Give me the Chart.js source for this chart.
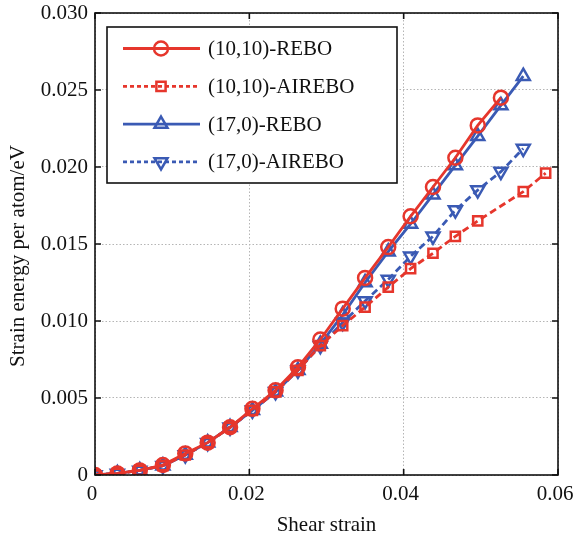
<!DOCTYPE html>
<html>
<head>
<meta charset="utf-8">
<script src="https://cdn.jsdelivr.net/npm/chart.js@4/dist/chart.umd.min.js"></script>
<style>
  html, body { margin: 0; padding: 0; background: #ffffff; }
  #wrap { width: 573px; height: 539px; }
</style>
</head>
<body>
<div id="wrap"><canvas id="chart" width="573" height="539"></canvas></div>
<script>
// shear strain steps
const strainA = [0, 0.0029, 0.0058, 0.0088, 0.0117, 0.0146, 0.0175, 0.0204, 0.0234, 0.0263,
    0.0292, 0.0321, 0.0350, 0.0380, 0.0409, 0.0438, 0.0467, 0.0496, 0.0526];
const strainB = [0, 0.0029, 0.0058, 0.0088, 0.0117, 0.0146, 0.0175, 0.0204, 0.0234, 0.0263,
    0.0292, 0.0321, 0.0350, 0.0380, 0.0409, 0.0438, 0.0467, 0.0496, 0.0526, 0.0555];
const strainC = [0, 0.0029, 0.0058, 0.0088, 0.0117, 0.0146, 0.0175, 0.0204, 0.0234, 0.0263,
    0.0292, 0.0321, 0.0350, 0.0380, 0.0409, 0.0438, 0.0467, 0.0496, 0.0555, 0.0584];

// strain energy per atom (eV)
const armchairRebo = [0, 0.0001, 0.0003, 0.00065, 0.0014, 0.0021, 0.0031, 0.0043, 0.0055, 0.0070,
    0.0088, 0.0108, 0.0128, 0.0148, 0.0168, 0.0187, 0.0206, 0.0227, 0.0245];
const armchairAirebo = [0, 0.0001, 0.0003, 0.0006, 0.0013, 0.0021, 0.0031, 0.0042, 0.0054, 0.0068,
    0.0084, 0.0097, 0.0109, 0.0122, 0.0134, 0.0144, 0.0155, 0.0165, 0.0184, 0.0196];
const zigzagRebo = [0, 0.0001, 0.0003, 0.0006, 0.0013, 0.0021, 0.0031, 0.0042, 0.0054, 0.0068,
    0.0085, 0.0104, 0.0125, 0.0145, 0.0163, 0.0182, 0.0201, 0.0220, 0.0240, 0.0259];
const zigzagAirebo = [0, 0.0001, 0.0003, 0.0006, 0.0013, 0.0021, 0.0031, 0.0042, 0.0054, 0.0068,
    0.0084, 0.0099, 0.0113, 0.0127, 0.0142, 0.0155, 0.0172, 0.0185, 0.0197, 0.0212];

const seriesNames = ['(10,10)-REBO', '(10,10)-AIREBO', '(17,0)-REBO', '(17,0)-AIREBO'];
const xTickLabels = ['0', '0.02', '0.04', '0.06'];
const yTickLabels = ['0', '0.005', '0.010', '0.015', '0.020', '0.025', '0.030'];
const xTitle = 'Shear strain';
const yTitle = 'Strain energy per atom/eV';

const RED = '#e6362c';
const BLUE = '#3a5ab4';
const SERIF = "'Liberation Serif', 'DejaVu Serif', serif";

const pairs = (xs, ys) => ys.map((y, i) => ({x: xs[i], y: y}));

function makeSet(label, xs, ys, color, dashed, style, rot, radius) {
    return {
        label: label,
        data: pairs(xs, ys),
        showLine: true,
        borderColor: color,
        borderWidth: 2.8,
        borderDash: dashed ? [7, 4] : [],
        pointStyle: style,
        pointRotation: rot,
        pointRadius: radius,
        pointBorderWidth: 2.5,
        pointBorderColor: color,
        pointBackgroundColor: 'rgba(255,255,255,0)',
        tension: 0
    };
}

// matlab style frame, inward ticks, axis titles and the boxed legend
const matlabBits = {
    id: 'matlabBits',
    afterDraw(chart) {
        const {ctx, chartArea: a, scales} = chart;
        ctx.save();
        ctx.strokeStyle = '#111';
        ctx.lineWidth = 1.6;
        ctx.setLineDash([]);
        ctx.strokeRect(a.left, a.top, a.right - a.left, a.bottom - a.top);

        const tl = 6;
        ctx.beginPath();
        scales.x.ticks.forEach((t, i) => {
            const px = scales.x.getPixelForTick(i);
            ctx.moveTo(px, a.bottom); ctx.lineTo(px, a.bottom - tl);
            ctx.moveTo(px, a.top); ctx.lineTo(px, a.top + tl);
        });
        scales.y.ticks.forEach((t, i) => {
            const py = scales.y.getPixelForTick(i);
            ctx.moveTo(a.left, py); ctx.lineTo(a.left + tl, py);
            ctx.moveTo(a.right, py); ctx.lineTo(a.right - tl, py);
        });
        ctx.stroke();

        // axis titles
        ctx.fillStyle = '#111';
        ctx.font = '21px ' + SERIF;
        ctx.textAlign = 'center';
        ctx.textBaseline = 'middle';
        ctx.fillText(xTitle, (a.left + a.right) / 2, 525);
        ctx.save();
        ctx.translate(18, 256);
        ctx.rotate(-Math.PI / 2);
        ctx.fillText(yTitle, 0, 0);
        ctx.restore();

        // legend box
        const bx = 107, by = 27, bw = 290, bh = 156;
        ctx.fillStyle = '#fff';
        ctx.fillRect(bx, by, bw, bh);
        ctx.lineWidth = 1.6;
        ctx.strokeRect(bx, by, bw, bh);

        chart.data.datasets.forEach((ds, i) => {
            const y = 48.5 + i * 37.8;
            ctx.strokeStyle = ds.borderColor;
            ctx.lineWidth = ds.borderWidth;
            ctx.setLineDash(ds.borderDash.length ? [4, 3] : []);
            ctx.beginPath();
            ctx.moveTo(123, y); ctx.lineTo(200, y);
            ctx.stroke();
            ctx.setLineDash([]);
            ctx.lineWidth = ds.pointBorderWidth;
            ctx.fillStyle = 'rgba(255,255,255,0)';
            Chart.helpers.drawPoint(ctx, {
                pointStyle: ds.pointStyle,
                rotation: ds.pointRotation,
                radius: ds.pointRadius,
                borderWidth: ds.pointBorderWidth
            }, 161, y);
            ctx.fillStyle = '#111';
            ctx.font = '21px ' + SERIF;
            ctx.textBaseline = 'middle';
            ctx.textAlign = 'left';
            ctx.fillText(ds.label, 208, y + 1);
        });
        ctx.restore();
    }
};

new Chart(document.getElementById('chart'), {
    type: 'scatter',
    data: {
        datasets: [
            makeSet(seriesNames[0], strainA, armchairRebo, RED, false, 'circle', 0, 7),
            makeSet(seriesNames[1], strainC, armchairAirebo, RED, true, 'rect', 0, 6.5),
            makeSet(seriesNames[2], strainB, zigzagRebo, BLUE, false, 'triangle', 0, 7.5),
            makeSet(seriesNames[3], strainB, zigzagAirebo, BLUE, true, 'triangle', 180, 7.5)
        ]
    },
    options: {
        responsive: false,
        animation: false,
        layout: {padding: {top: 13, right: 15, left: 0, bottom: 0}},
        plugins: {legend: {display: false}, tooltip: {enabled: false}},
        scales: {
            x: {
                type: 'linear',
                min: 0,
                max: 0.06,
                ticks: {
                    stepSize: 0.02,
                    padding: 7,
                    labelOffset: -3,
                    color: '#111',
                    font: {family: SERIF, size: 21},
                    callback: (v, i) => xTickLabels[i]
                },
                grid: {color: '#b5b5b5', lineWidth: 1, drawTicks: false},
                border: {display: false, dash: [1.5, 2]},
                afterFit(scale) {
                    scale.height = 64;
                    scale.paddingLeft = 0;
                    scale.paddingRight = 0;
                }
            },
            y: {
                type: 'linear',
                min: 0,
                max: 0.03,
                ticks: {
                    stepSize: 0.005,
                    padding: 7,
                    color: '#111',
                    font: {family: SERIF, size: 21},
                    callback: (v, i) => yTickLabels[i]
                },
                grid: {color: '#b5b5b5', lineWidth: 1, drawTicks: false},
                border: {display: false, dash: [1.5, 2]},
                afterFit(scale) {
                    scale.width = 95;
                    scale.paddingTop = 0;
                    scale.paddingBottom = 0;
                }
            }
        }
    },
    plugins: [matlabBits]
});
</script>
</body>
</html>
